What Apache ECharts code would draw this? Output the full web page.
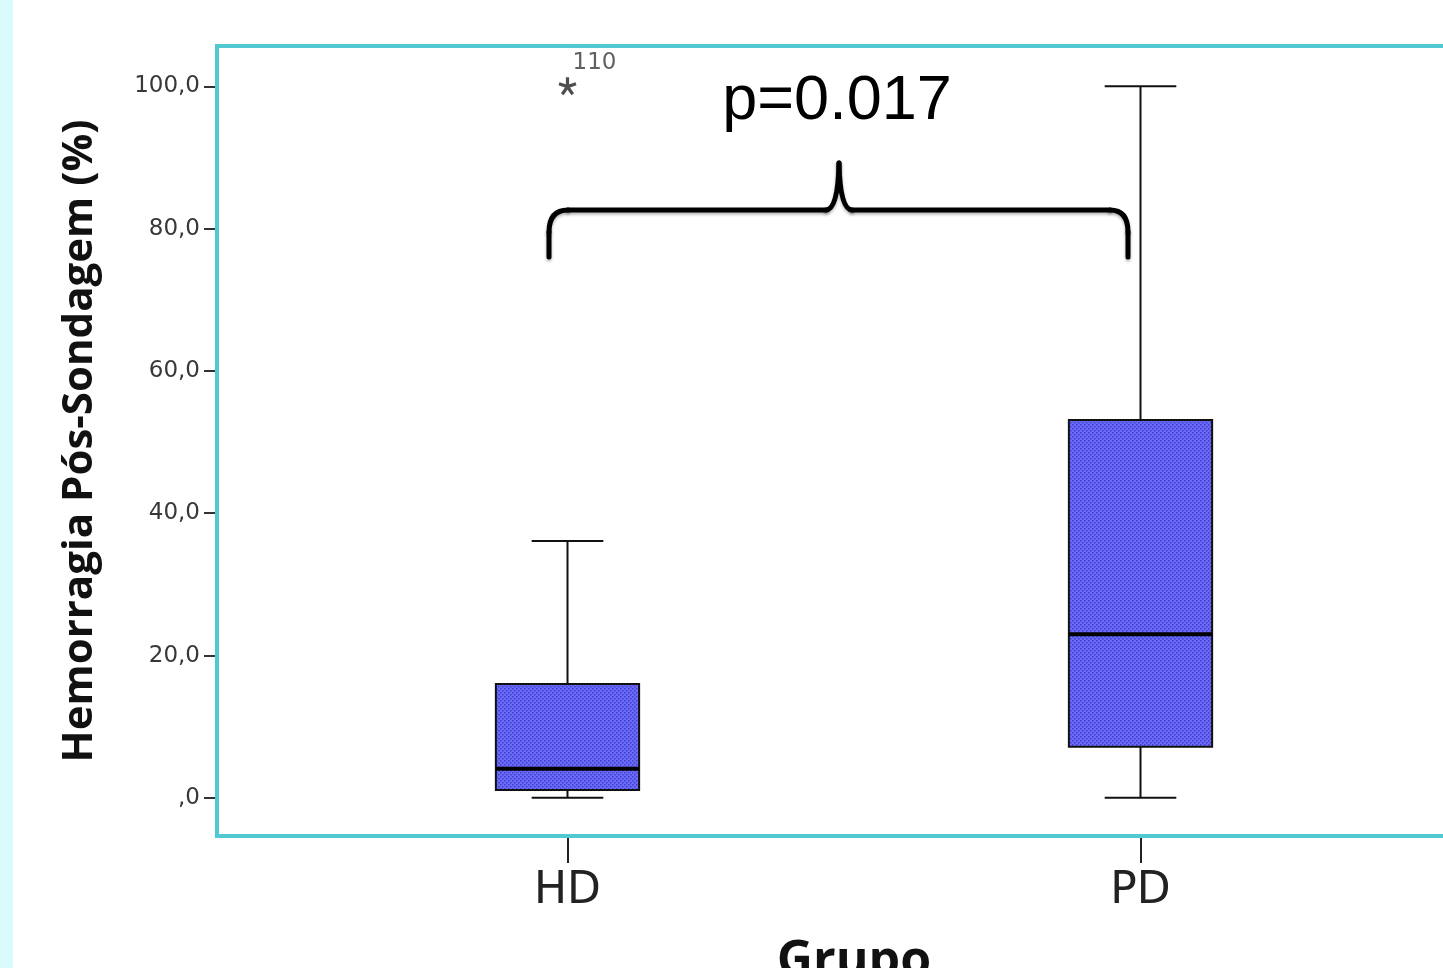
<!DOCTYPE html>
<html>
<head>
<meta charset="utf-8">
<script src="https://cdn.jsdelivr.net/npm/echarts@6/dist/echarts.min.js"></script>
<style>
  html, body { margin: 0; padding: 0; background: #fff; }
  #main { width: 1443px; height: 968px; }
</style>
</head>
<body>
<div id="main"></div>
<script>
var categories = ['HD', 'PD'];
// min, Q1, median, Q3, max
var boxStats = [
    [0, 1.1, 4.1, 16.0, 36.1],
    [0, 7.2, 23.0, 53.1, 100]
];
var outliers = [[0, 100, '110']];
var yTicks = [0, 20, 40, 60, 80, 100];
var yTickLabels = [',0', '20,0', '40,0', '60,0', '80,0', '100,0'];
var pText = 'p=0.017';

// dotted fill like the SPSS pattern
var pat = document.createElement('canvas');
pat.width = 4; pat.height = 4;
var pc = pat.getContext('2d');
pc.fillStyle = '#6a6afc';
pc.fillRect(0, 0, 4, 4);
pc.fillStyle = '#4040c4';
pc.fillRect(0, 0, 1.5, 1.5);
pc.fillRect(2, 2, 1.5, 1.5);

function asteriskPath(arms) {
    var d = '';
    for (var i = 0; i < arms; i++) {
        var a = -Math.PI / 2 + i * 2 * Math.PI / arms;
        var c = Math.cos(a), s = Math.sin(a);
        var px = -s * 1.8, py = c * 1.8;
        d += 'M' + px.toFixed(2) + ',' + py.toFixed(2) +
            'L' + (c * 10 + px).toFixed(2) + ',' + (s * 10 + py).toFixed(2) +
            'L' + (c * 10 - px).toFixed(2) + ',' + (s * 10 - py).toFixed(2) +
            'L' + (-px).toFixed(2) + ',' + (-py).toFixed(2) + 'Z';
    }
    return 'path://' + d;
}

var chart = echarts.init(document.getElementById('main'));

function renderBox(params, api) {
    var x = api.value(0);
    var pMin = api.coord([x, api.value(1)]);
    var pQ1 = api.coord([x, api.value(2)]);
    var pMed = api.coord([x, api.value(3)]);
    var pQ3 = api.coord([x, api.value(4)]);
    var pMax = api.coord([x, api.value(5)]);
    var band = api.size([1, 0])[0];
    var bw = band * 0.25;
    var cap = bw / 2;
    var cx = pMed[0];
    var line = { stroke: '#111', lineWidth: 2 };
    return {
        type: 'group',
        children: [
            { type: 'line', shape: { x1: cx, y1: pQ3[1], x2: cx, y2: pMax[1] }, style: line },
            { type: 'line', shape: { x1: cx, y1: pMin[1], x2: cx, y2: pQ1[1] }, style: line },
            { type: 'line', shape: { x1: cx - cap / 2, y1: pMax[1], x2: cx + cap / 2, y2: pMax[1] }, style: line },
            { type: 'line', shape: { x1: cx - cap / 2, y1: pMin[1], x2: cx + cap / 2, y2: pMin[1] }, style: line },
            {
                type: 'rect',
                shape: { x: cx - bw / 2, y: pQ3[1], width: bw, height: pQ1[1] - pQ3[1] },
                style: { fill: { image: pat, repeat: 'repeat' }, stroke: '#111', lineWidth: 2 }
            },
            { type: 'line', shape: { x1: cx - bw / 2, y1: pMed[1], x2: cx + bw / 2, y2: pMed[1] }, style: { stroke: '#000', lineWidth: 4 } }
        ]
    };
}

var braceStyle = {
    fill: 'none', stroke: '#000', lineWidth: 5, lineCap: 'round',
    shadowBlur: 3, shadowColor: 'rgba(0,0,0,0.3)', shadowOffsetY: 2
};
function bracePiece(type, shape) {
    return { type: type, shape: shape, style: braceStyle, z: 10, silent: true };
}

chart.setOption({
    animation: false,
    backgroundColor: '#fff',
    grid: { left: 281, width: 1146, top: 45, bottom: 131, outerBoundsMode: 'none' },
    xAxis: {
        type: 'category',
        data: categories,
        axisLine: { show: false, onZero: false },
        axisTick: { show: true, alignWithLabel: true, length: 26, lineStyle: { color: '#222', width: 2 } },
        axisLabel: { margin: 33, fontFamily: 'DejaVu Sans', fontSize: 44, color: '#222' },
        name: 'Grupo',
        nameLocation: 'middle',
        nameGap: 100,
        nameTextStyle: { fontFamily: 'Open Sans', fontWeight: 'bold', fontSize: 50, color: '#111' }
    },
    yAxis: {
        type: 'value',
        min: -5.5,
        max: 105.8,
        offset: 64,
        splitLine: { show: false },
        axisLine: { show: false },
        axisTick: { show: true, length: 13, customValues: yTicks, lineStyle: { color: '#333', width: 2 } },
        axisLabel: {
            customValues: yTicks,
            margin: 17,
            fontFamily: 'DejaVu Sans',
            fontSize: 23,
            color: '#383838',
            formatter: function (v) { return yTickLabels[yTicks.indexOf(v)]; }
        },
        name: 'Hemorragia Pós-Sondagem (%)',
        nameLocation: 'middle',
        nameRotate: 90,
        nameGap: 116,
        nameTextStyle: { fontFamily: 'Open Sans', fontWeight: 'bold', fontSize: 42, color: '#111' }
    },
    series: [
        {
            type: 'custom',
            renderItem: renderBox,
            encode: { x: 0, y: [1, 2, 3, 4, 5] },
            data: boxStats.map(function (s, i) { return [i].concat(s); }),
            z: 3
        },
        {
            type: 'scatter',
            symbol: asteriskPath(5),
            symbolSize: 18,
            itemStyle: { color: '#222' },
            label: {
                show: true,
                position: 'top',
                distance: 3,
                offset: [27, 0],
                formatter: function (p) { return p.data[2]; },
                fontFamily: 'DejaVu Sans',
                fontSize: 23,
                color: '#383838'
            },
            data: outliers,
            z: 4
        }
    ],
    graphic: [
        { type: 'rect', left: 0, top: 0, shape: { width: 13, height: 968 }, style: { fill: '#d9fbfb' }, silent: true },
        {
            type: 'rect', shape: { x: 217, y: 46, width: 1300, height: 790 },
            style: { fill: 'none', stroke: '#52c8d0', lineWidth: 4 }, z: 10, silent: true
        },
        bracePiece('line', { x1: 549, y1: 257, x2: 549, y2: 232 }),
        bracePiece('bezierCurve', { x1: 549, y1: 232, cpx1: 549, cpy1: 210, x2: 568, y2: 210 }),
        bracePiece('line', { x1: 568, y1: 210, x2: 826, y2: 210 }),
        bracePiece('bezierCurve', { x1: 826, y1: 210, cpx1: 838, cpy1: 210, x2: 839, y2: 163 }),
        bracePiece('bezierCurve', { x1: 839, y1: 163, cpx1: 840, cpy1: 210, x2: 852, y2: 210 }),
        bracePiece('line', { x1: 852, y1: 210, x2: 1110, y2: 210 }),
        bracePiece('bezierCurve', { x1: 1110, y1: 210, cpx1: 1128, cpy1: 210, x2: 1128, y2: 232 }),
        bracePiece('line', { x1: 1128, y1: 232, x2: 1128, y2: 257 }),
        {
            type: 'text', x: 837, y: 102,
            style: { text: pText, font: '63px "Liberation Sans"', fill: '#000', align: 'center', verticalAlign: 'middle' },
            z: 10
        }
    ]
});
</script>
</body>
</html>
